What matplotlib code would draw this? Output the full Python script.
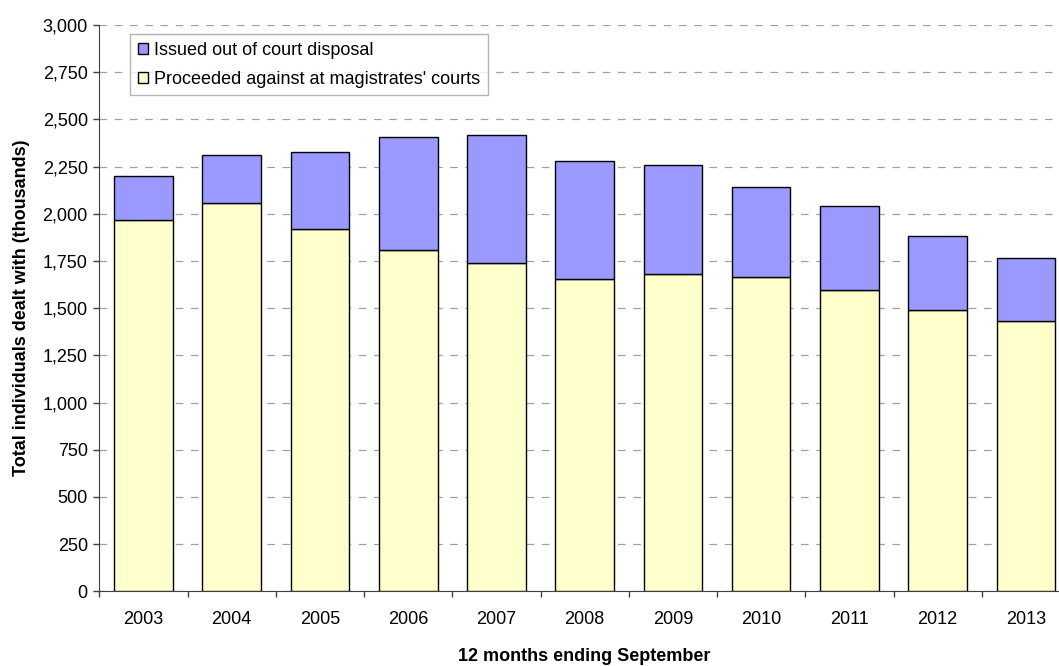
import matplotlib
matplotlib.use("Agg")
import matplotlib.pyplot as plt
import numpy as np
from matplotlib.ticker import FuncFormatter, FixedLocator, NullFormatter

plt.rcParams['font.family'] = ['Liberation Sans', 'DejaVu Sans']

years = ['2003', '2004', '2005', '2006', '2007', '2008', '2009', '2010', '2011', '2012', '2013']
# thousands of individuals
proceeded = [1967, 2059, 1918, 1806, 1741, 1656, 1681, 1665, 1594, 1492, 1430]
out_of_court = [234, 254, 411, 602, 674, 625, 576, 478, 447, 392, 336]

purple = '#9999FF'
yellow = '#FFFFCC'
FS = 13

fig = plt.figure(figsize=(10.59, 6.66), dpi=100)
ax = fig.add_axes([99.3 / 1059, (666 - 591.3) / 666, (1070 - 99.3) / 1059, (591.3 - 25) / 666])

x = np.arange(len(years))
w = 0.665
b1 = ax.bar(x, proceeded, w, color=yellow, edgecolor='black', linewidth=1.0, zorder=3,
            label="Proceeded against at magistrates' courts")
b2 = ax.bar(x, out_of_court, w, bottom=proceeded, color=purple, edgecolor='black', linewidth=1.0,
            zorder=3, label='Issued out of court disposal')

ax.set_xlim(-0.5, len(years) - 0.5)
ax.set_ylim(0, 3000)
ax.set_yticks(np.arange(0, 3001, 250))
ax.yaxis.set_major_formatter(FuncFormatter(lambda v, p: f'{int(v):,}'))

ax.set_xticks(x)
ax.set_xticklabels(years)
ax.xaxis.set_minor_locator(FixedLocator(np.arange(-0.5, len(years), 1.0)))
ax.xaxis.set_minor_formatter(NullFormatter())
ax.tick_params(axis='x', which='major', length=0, pad=14, labelsize=FS, colors='black')
ax.tick_params(axis='x', which='minor', length=4, width=1, color='#404040', direction='out')
ax.tick_params(axis='y', which='major', length=4.3, width=1, color='#404040', pad=4, labelsize=FS)

ax.yaxis.grid(True, linestyle=(0, (6.1, 6.1)), color='#A0A0A0', linewidth=0.9, zorder=0)
ax.set_axisbelow(True)

for s in ['top', 'right']:
    ax.spines[s].set_visible(False)
ax.spines['left'].set_color('#404040')
ax.spines['bottom'].set_color('#404040')

ax.set_ylabel('Total individuals dealt with (thousands)', fontsize=FS, fontweight='bold')
ax.yaxis.label.set_verticalalignment('center')
ax.yaxis.set_label_coords(-0.0801, 0.5)
ax.set_xlabel('12 months ending September', fontsize=FS, fontweight='bold')
ax.xaxis.set_label_coords(0.5, -0.1155)
ax.xaxis.label.set_verticalalignment('center')

leg = ax.legend(handles=[b2, b1], loc='upper left', bbox_to_anchor=(0.0316, 0.9836),
                borderaxespad=0, fontsize=FS, frameon=True, fancybox=False,
                handlelength=0.6, handleheight=0.6, handletextpad=0.3,
                labelspacing=0.66, borderpad=0.42)
leg.get_frame().set_edgecolor('#A0A0A0')
leg.get_frame().set_linewidth(1.0)

fig.savefig('out.png', dpi=100)
